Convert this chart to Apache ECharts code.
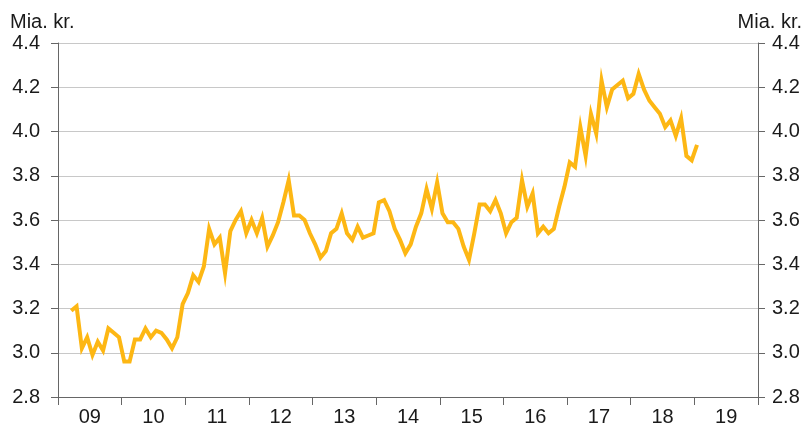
<!DOCTYPE html>
<html>
<head>
<meta charset="utf-8">
<script src="https://cdn.jsdelivr.net/npm/echarts@6/dist/echarts.min.js"></script>
<style>
html, body { margin: 0; padding: 0; background: #fff; }
#main { width: 806px; height: 427px; }
</style>
</head>
<body>
<div id="main"></div>
<script>
// year labels on the x axis
let yearLabels = ['09', '10', '11', '12', '13', '14', '15', '16', '17', '18', '19'];
// first month of data: March 2009 (index 2 in the month list)
let firstMonthIndex = 2;
// monthly values, Mia. kr., March 2009 - January 2019
let values = [
	3.19, 3.21, 3.02, 3.07, 2.99, 3.05, 3.01, 3.11, 3.09, 3.07,
	2.96, 2.96, 3.06, 3.06, 3.11, 3.07, 3.10, 3.09, 3.06, 3.02, 3.07, 3.22,
	3.27, 3.35, 3.32, 3.39, 3.56, 3.49, 3.52, 3.36, 3.55, 3.60, 3.64, 3.54,
	3.60, 3.54, 3.61, 3.48, 3.53, 3.59, 3.68, 3.78, 3.62, 3.62, 3.60, 3.54,
	3.49, 3.43, 3.46, 3.54, 3.56, 3.63, 3.54, 3.51, 3.57, 3.52, 3.53, 3.54,
	3.68, 3.69, 3.64, 3.56, 3.51, 3.45, 3.49, 3.57, 3.63, 3.74, 3.65, 3.77,
	3.63, 3.59, 3.59, 3.56, 3.48, 3.42, 3.54, 3.67, 3.67, 3.64, 3.69, 3.63,
	3.54, 3.59, 3.61, 3.78, 3.66, 3.72, 3.54, 3.57, 3.54, 3.56, 3.66, 3.75,
	3.86, 3.84, 4.02, 3.89, 4.08, 3.99, 4.23, 4.11, 4.19, 4.21, 4.23, 4.15,
	4.17, 4.26, 4.19, 4.14, 4.11, 4.08, 4.02, 4.05, 3.98, 4.06, 3.89, 3.87,
	3.94
];
// y axis ticks
let yMin = 2.8, yMax = 4.4, yStep = 0.2;

// month categories (one per month of each year)
let months = [];
yearLabels.forEach(function(y) {
	for (let m = 1; m <= 12; m++) months.push(y + '-' + m);
});
let seriesData = months.map(function(_, i) {
	let k = i - firstMonthIndex;
	return (k >= 0 && k < values.length) ? values[k] : null;
});

let font = "'Liberation Sans', Arial, sans-serif";
let txt = '#1a1a1a';
let axisColor = '#666666';

function yAxisDef(pos) {
	return {
		type: 'value',
		position: pos,
		min: yMin,
		max: yMax,
		interval: yStep,
		axisLine: { show: true, lineStyle: { color: axisColor, width: 1 } },
		axisTick: { show: true, inside: false, length: 7, lineStyle: { color: axisColor } },
		axisLabel: {
			color: txt, fontSize: 20, fontFamily: font,
			margin: pos === 'left' ? 18 : 14,
			formatter: function(v) { return v.toFixed(1); }
		},
		splitLine: { show: pos === 'left', lineStyle: { color: '#c8c8c8', width: 1 } }
	};
}

let chart = echarts.init(document.getElementById('main'));
let option = {
	animation: false,
	backgroundColor: '#ffffff',
	grid: { left: 58, right: 48, top: 43, bottom: 29, containLabel: false },
	graphic: [
		{ type: 'text', left: 10, top: 12, style: { text: 'Mia. kr.', fontSize: 20, fontFamily: font, fill: txt } },
		{ type: 'text', right: 4, top: 12, style: { text: 'Mia. kr.', fontSize: 20, fontFamily: font, fill: txt } }
	],
	xAxis: [
		{
			type: 'category',
			data: yearLabels,
			boundaryGap: true,
			axisLine: { show: true, lineStyle: { color: axisColor, width: 1 } },
			axisTick: { show: true, length: 8, lineStyle: { color: axisColor } },
			axisLabel: { color: txt, fontSize: 20, fontFamily: font, margin: 10 },
			splitLine: { show: false }
		},
		{
			type: 'category',
			data: months,
			boundaryGap: true,
			show: false
		}
	],
	yAxis: [yAxisDef('left'), yAxisDef('right')],
	series: [
		{
			type: 'line',
			xAxisIndex: 1,
			yAxisIndex: 0,
			data: seriesData,
			showSymbol: false,
			connectNulls: false,
			lineStyle: { color: '#fdb714', width: 4, join: 'miter' },
			itemStyle: { color: '#fdb714' }
		}
	]
};
chart.setOption(option);
</script>
</body>
</html>
